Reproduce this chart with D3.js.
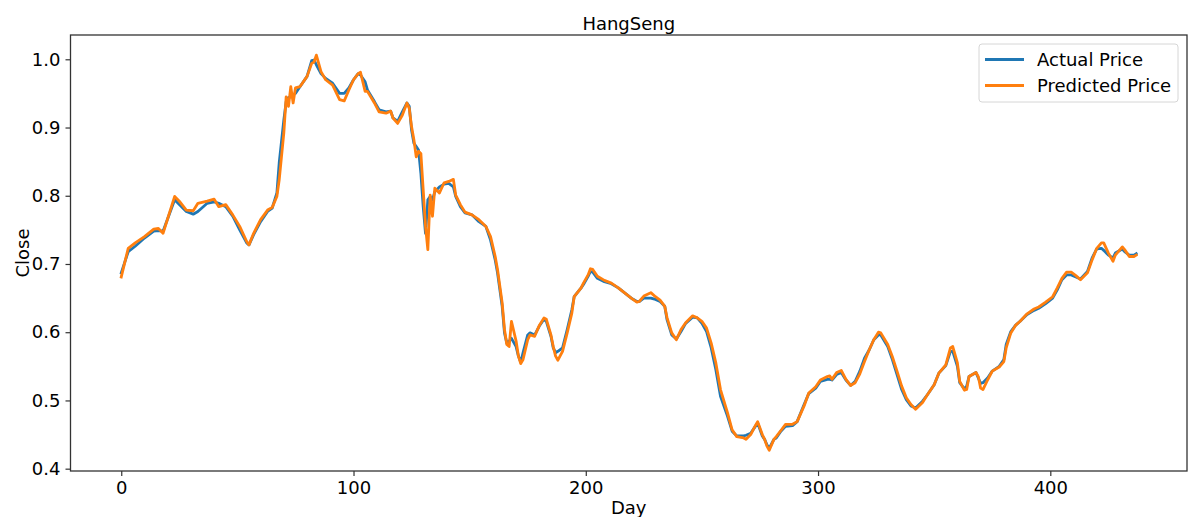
<!DOCTYPE html>
<html>
<head>
<meta charset="utf-8">
<script src="https://cdn.jsdelivr.net/npm/d3@7"></script>
<style>
  body { margin: 0; background: #fff; }
  svg text { font-family: "DejaVu Sans", sans-serif; fill: #000; }
</style>
</head>
<body>
<svg id="chart"></svg>
<script>
const days = [0, 3, 6, 10, 14, 16, 18, 23, 25, 28, 31, 33, 37, 40, 42, 45, 48, 51, 54, 55, 57, 60, 63, 65, 67, 68, 70, 71, 72, 73, 74, 75, 77, 80, 82, 83, 84, 86, 88, 91, 94, 96, 98, 100, 102, 103, 105, 106, 109, 111, 114, 116, 117, 119, 121, 123, 124, 125, 126, 127, 128, 129, 130, 131, 132, 133, 134, 135, 137, 139, 141, 143, 144, 146, 148, 151, 154, 157, 159, 161, 162, 164, 165, 166, 167, 168, 170, 171, 172, 173, 175, 176, 178, 180, 182, 183, 185, 186, 187, 188, 190, 192, 194, 195, 198, 199, 201, 202, 203, 205, 208, 211, 214, 217, 220, 222, 223, 225, 228, 230, 232, 234, 235, 237, 239, 241, 243, 246, 248, 250, 252, 254, 256, 258, 261, 263, 265, 268, 269, 271, 273, 274, 276, 277, 278, 279, 281, 282, 284, 286, 289, 291, 294, 296, 299, 301, 304, 305, 306, 308, 310, 312, 314, 316, 318, 320, 322, 324, 326, 327, 330, 332, 334, 336, 338, 340, 342, 345, 347, 350, 352, 355, 357, 358, 360, 361, 363, 364, 365, 368, 369, 370, 371, 373, 375, 378, 380, 381, 383, 385, 387, 390, 393, 395, 398, 401, 403, 405, 407, 409, 411, 413, 416, 418, 420, 422, 423, 425, 427, 428, 431, 432, 434, 436, 437];

const actualPrice = [0.687, 0.718, 0.726, 0.738, 0.748, 0.749, 0.748, 0.794, 0.787, 0.777, 0.773, 0.777, 0.789, 0.791, 0.789, 0.784, 0.770, 0.750, 0.731, 0.728, 0.743, 0.762, 0.777, 0.782, 0.804, 0.848, 0.911, 0.938, 0.944, 0.945, 0.948, 0.950, 0.960, 0.975, 0.998, 0.999, 0.992, 0.979, 0.972, 0.965, 0.950, 0.950, 0.958, 0.970, 0.979, 0.977, 0.967, 0.955, 0.938, 0.926, 0.923, 0.924, 0.914, 0.909, 0.923, 0.936, 0.931, 0.896, 0.877, 0.872, 0.867, 0.833, 0.784, 0.745, 0.794, 0.799, 0.794, 0.806, 0.813, 0.817, 0.818, 0.813, 0.799, 0.784, 0.775, 0.772, 0.762, 0.755, 0.735, 0.706, 0.687, 0.638, 0.599, 0.584, 0.587, 0.591, 0.579, 0.565, 0.556, 0.570, 0.596, 0.599, 0.596, 0.609, 0.619, 0.616, 0.594, 0.577, 0.570, 0.572, 0.577, 0.604, 0.633, 0.652, 0.665, 0.670, 0.682, 0.689, 0.688, 0.679, 0.674, 0.671, 0.665, 0.657, 0.649, 0.645, 0.645, 0.650, 0.650, 0.648, 0.645, 0.638, 0.618, 0.596, 0.590, 0.601, 0.613, 0.622, 0.621, 0.613, 0.601, 0.577, 0.545, 0.506, 0.477, 0.455, 0.448, 0.448, 0.449, 0.452, 0.462, 0.467, 0.448, 0.443, 0.435, 0.430, 0.443, 0.445, 0.455, 0.462, 0.463, 0.469, 0.494, 0.510, 0.518, 0.528, 0.531, 0.531, 0.530, 0.538, 0.541, 0.530, 0.522, 0.528, 0.543, 0.562, 0.574, 0.589, 0.596, 0.596, 0.579, 0.560, 0.538, 0.516, 0.501, 0.492, 0.489, 0.499, 0.508, 0.523, 0.540, 0.551, 0.572, 0.572, 0.550, 0.526, 0.517, 0.521, 0.535, 0.541, 0.533, 0.525, 0.526, 0.533, 0.543, 0.550, 0.560, 0.582, 0.601, 0.610, 0.616, 0.626, 0.632, 0.635, 0.642, 0.650, 0.662, 0.677, 0.684, 0.684, 0.681, 0.678, 0.689, 0.709, 0.722, 0.723, 0.720, 0.713, 0.709, 0.716, 0.722, 0.718, 0.713, 0.713, 0.715];

const predictedPrice = [0.681, 0.723, 0.731, 0.740, 0.751, 0.752, 0.745, 0.799, 0.792, 0.779, 0.778, 0.789, 0.792, 0.795, 0.784, 0.787, 0.772, 0.755, 0.733, 0.728, 0.745, 0.765, 0.779, 0.783, 0.799, 0.823, 0.892, 0.945, 0.931, 0.960, 0.936, 0.958, 0.960, 0.975, 0.994, 0.996, 1.006, 0.982, 0.970, 0.962, 0.941, 0.939, 0.955, 0.970, 0.979, 0.981, 0.953, 0.953, 0.936, 0.923, 0.921, 0.924, 0.914, 0.906, 0.918, 0.936, 0.928, 0.901, 0.882, 0.857, 0.865, 0.862, 0.809, 0.755, 0.721, 0.801, 0.770, 0.811, 0.804, 0.819, 0.821, 0.824, 0.801, 0.787, 0.776, 0.772, 0.765, 0.755, 0.740, 0.711, 0.692, 0.643, 0.604, 0.582, 0.579, 0.616, 0.587, 0.565, 0.554, 0.560, 0.589, 0.596, 0.594, 0.610, 0.621, 0.619, 0.596, 0.579, 0.565, 0.559, 0.572, 0.599, 0.628, 0.652, 0.665, 0.672, 0.684, 0.693, 0.692, 0.682, 0.676, 0.672, 0.665, 0.657, 0.649, 0.644, 0.645, 0.653, 0.658, 0.652, 0.647, 0.638, 0.621, 0.599, 0.589, 0.604, 0.614, 0.624, 0.621, 0.616, 0.606, 0.584, 0.555, 0.516, 0.482, 0.457, 0.447, 0.445, 0.443, 0.450, 0.463, 0.469, 0.450, 0.443, 0.433, 0.427, 0.443, 0.447, 0.456, 0.465, 0.465, 0.469, 0.492, 0.511, 0.520, 0.530, 0.535, 0.536, 0.531, 0.541, 0.544, 0.531, 0.522, 0.526, 0.539, 0.557, 0.574, 0.589, 0.600, 0.599, 0.582, 0.564, 0.543, 0.521, 0.504, 0.494, 0.487, 0.497, 0.508, 0.523, 0.540, 0.552, 0.577, 0.579, 0.555, 0.528, 0.515, 0.516, 0.535, 0.541, 0.535, 0.518, 0.516, 0.530, 0.543, 0.549, 0.557, 0.577, 0.599, 0.610, 0.616, 0.627, 0.634, 0.637, 0.644, 0.652, 0.665, 0.679, 0.688, 0.688, 0.683, 0.677, 0.687, 0.706, 0.723, 0.731, 0.731, 0.716, 0.704, 0.713, 0.725, 0.721, 0.711, 0.711, 0.713];

const xTicks = [0, 100, 200, 300, 400];
const yTicks = [0.4, 0.5, 0.6, 0.7, 0.8, 0.9, 1.0];
const seriesNames = ["Actual Price", "Predicted Price"];
const seriesColors = ["#1f77b4", "#ff7f0e"];

const width = 1193;
const height = 517;
const margins = { top: 35, right: 6, bottom: 46, left: 70.5 };
const fontSize = "18px";

const svg = d3.select("svg#chart").attr("width", width).attr("height", height);

// matplotlib style 5% padding around data
const xScale = d3
  .scaleLinear()
  .domain([-21.85, 458.85])
  .range([margins.left, width - margins.right]);
const yScale = d3
  .scaleLinear()
  .domain([0.3966, 1.0356])
  .range([height - margins.bottom, margins.top]);

const plotG = svg.append("g");

const line = (values) =>
  d3
    .line()
    .x((d, i) => xScale(days[i]))
    .y((d) => yScale(d))(values);

[actualPrice, predictedPrice].forEach((values, k) => {
  plotG
    .append("path")
    .attr("d", line(values))
    .attr("fill", "none")
    .attr("stroke", seriesColors[k])
    .attr("stroke-width", 2.8)
    .attr("stroke-linejoin", "round")
    .attr("stroke-linecap", "square");
});

// axes
const xAxis = svg
  .append("g")
  .attr("transform", `translate(0,${height - margins.bottom})`)
  .call(d3.axisBottom(xScale).tickValues(xTicks).tickSize(5).tickPadding(5).tickFormat(d3.format("d")));
const yAxis = svg
  .append("g")
  .attr("transform", `translate(${margins.left},0)`)
  .call(d3.axisLeft(yScale).tickValues(yTicks).tickSize(5).tickPadding(5).tickFormat(d3.format(".1f")));

[xAxis, yAxis].forEach((ax) => {
  ax.select(".domain").remove();
  ax.selectAll(".tick line").attr("stroke", "#333").attr("stroke-width", 1.2);
  ax.selectAll(".tick text").style("font-size", fontSize).attr("fill", "#000");
});

// frame
svg
  .append("rect")
  .attr("x", margins.left)
  .attr("y", margins.top)
  .attr("width", width - margins.right - margins.left)
  .attr("height", height - margins.bottom - margins.top)
  .attr("fill", "none")
  .attr("stroke", "#333")
  .attr("stroke-width", 1.3);

// labels
const midX = (margins.left + width - margins.right) / 2;
svg.append("text").attr("x", midX).attr("y", 30).attr("text-anchor", "middle").style("font-size", fontSize).text("HangSeng");
svg.append("text").attr("x", midX).attr("y", 514).attr("text-anchor", "middle").style("font-size", fontSize).text("Day");
svg
  .append("text")
  .attr("transform", `translate(29,${(margins.top + height - margins.bottom) / 2}) rotate(-90)`)
  .attr("text-anchor", "middle")
  .style("font-size", fontSize)
  .text("Close");

// legend
const legend = svg.append("g").attr("transform", "translate(979,44)");
legend
  .append("rect")
  .attr("width", 199)
  .attr("height", 58)
  .attr("rx", 3)
  .attr("fill", "#fff")
  .attr("fill-opacity", 0.8)
  .attr("stroke", "#d6d6d6");
seriesNames.forEach((name, k) => {
  const y = 15.5 + k * 26;
  legend.append("line").attr("x1", 6).attr("x2", 45).attr("y1", y).attr("y2", y)
    .attr("stroke", seriesColors[k]).attr("stroke-width", 2.8);
  legend.append("text").attr("x", 58).attr("y", y + 6.5).style("font-size", fontSize).text(name);
});
</script>
</body>
</html>
